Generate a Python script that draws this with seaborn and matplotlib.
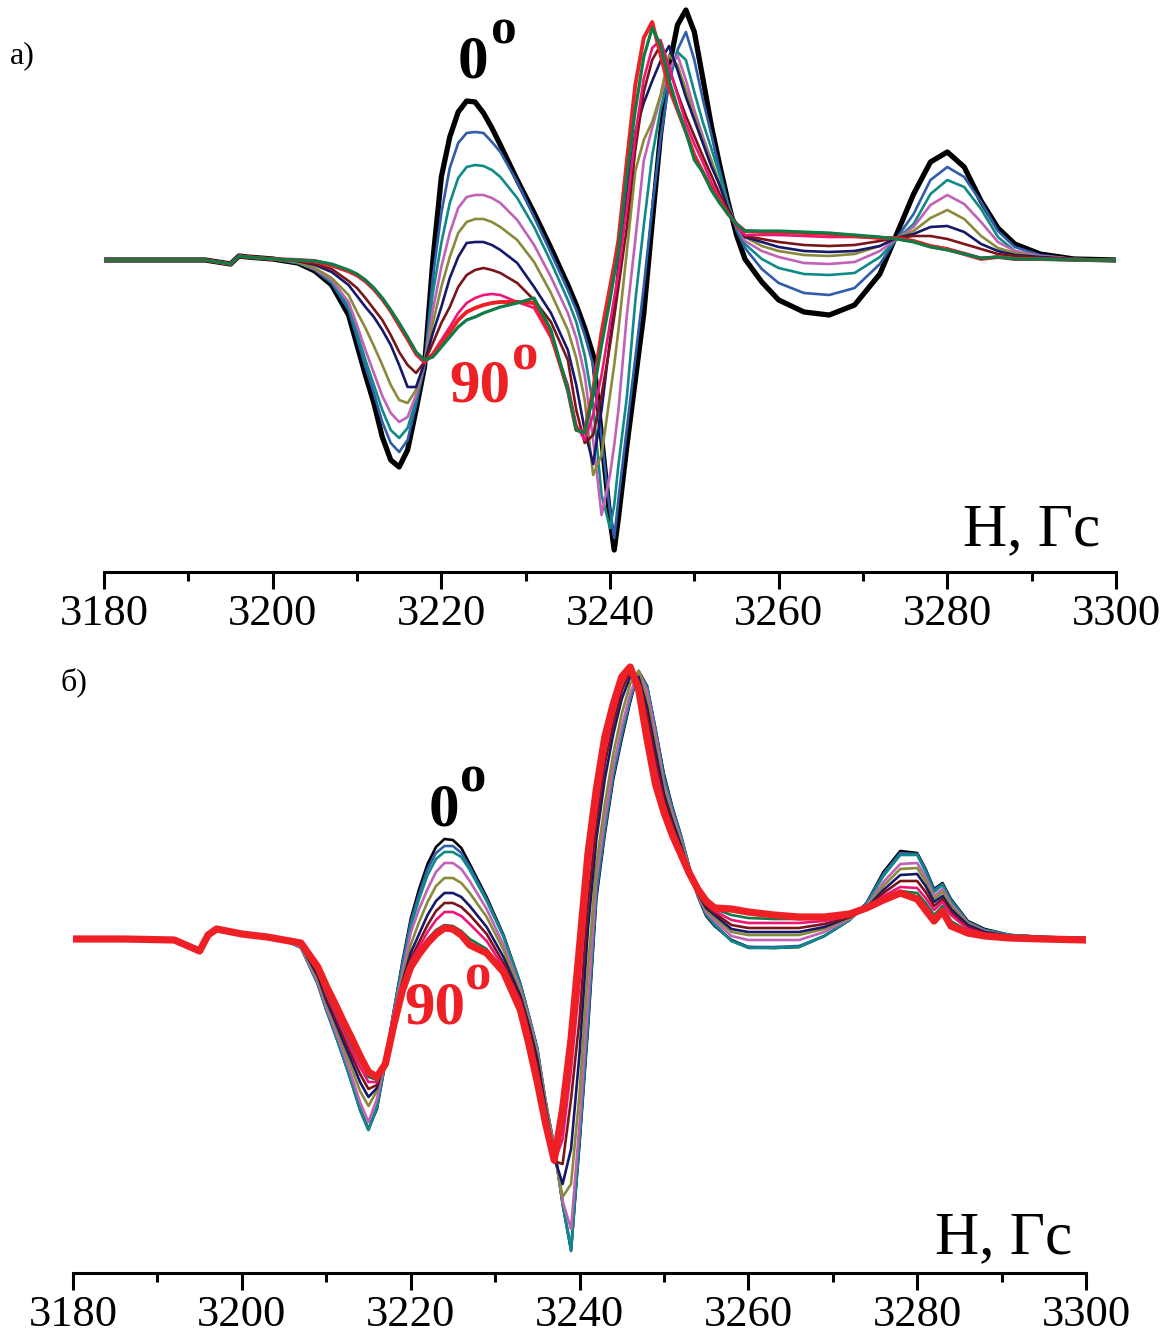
import matplotlib
matplotlib.use("Agg")
import matplotlib.pyplot as plt
from matplotlib.ticker import MultipleLocator
import pandas as pd
import seaborn as sns

sns.set_theme(style="white")
plt.rcParams['font.family'] = ['Liberation Serif', 'DejaVu Serif']
plt.rcParams['text.color'] = 'black'
plt.rcParams['xtick.color'] = 'black'

# ---------------- panel а): magnetic field grid (Gs) and signal per angle -------------
FIELD_A = [3180, 3186, 3192, 3195, 3196, 3197, 3200, 3203, 3205, 3207, 3209,
           3210, 3211, 3212, 3213, 3214, 3215, 3216, 3217, 3218,
           3219, 3220, 3221, 3222, 3223, 3224, 3225, 3226, 3227,
           3229, 3231, 3233, 3235,
           3236, 3237, 3238, 3239, 3240, 3240.5, 3241, 3242, 3243, 3244, 3245,
           3246, 3247, 3248, 3249, 3250, 3251, 3252, 3253, 3254, 3255, 3256,
           3258, 3260, 3263, 3266, 3269, 3272, 3274, 3276, 3278, 3280, 3282,
           3284, 3286, 3288, 3291, 3295, 3300]

A_0 = [0, 0, 0, -4, 4, 3, 1, -3, -11, -25, -55,
       -85, -115, -143, -177, -200, -207, -190, -150, -107,
       0, 83, 123, 148, 159, 158, 147, 132, 115,
       80, 47, 12, -25,
       -45, -68, -95, -177, -259, -290, -258, -186, -120, -54, 37, 126, 193, 235, 250, 228, 182, 135, 95, 58, 25, 1,
       -22, -40, -52, -55, -45, -14, 26, 66, 98, 108, 93, 59, 32, 16, 6, 1, 0]
A_10 = [0, 0, 0, -4, 4, 3, 1, -3, -10, -23, -50,
        -78, -107, -133, -162, -183, -192, -180, -145, -106,
        -17, 47, 92, 117, 127, 128, 127, 118, 108,
        78, 43, 7, -30,
        -50, -75, -105, -178, -252, -278, -239, -168, -98, -27, 52, 122, 177, 210, 228, 200, 161, 126, 90, 56, 30, 12,
        -9, -23, -33, -35, -28, -4, 22, 46, 80, 93, 83, 58, 29, 13, 5, 1, 0]
A_20 = [0, 0, 0, -4, 4, 3, 1, -3, -9, -22, -46,
        -72, -100, -125, -150, -170, -178, -168, -140, -105,
        -33, 17, 57, 82, 93, 95, 94, 90, 83,
        62, 33, -2, -40,
        -62, -95, -145, -235, -268, -245, -205, -137, -41, 34, 104, 151, 184, 208, 200, 168, 138, 112, 85, 55, 33, 16,
        1, -8, -14, -15, -13, 3, 21, 36, 66, 80, 73, 51, 23, 9, 4, 1, 0]
A_30 = [0, 0, 0, -4, 4, 3, 1, -2, -9, -20, -42,
        -65, -90, -113, -136, -153, -162, -157, -135, -104,
        -50, -7, 27, 52, 63, 65, 65, 62, 57,
        40, 15, -17, -53,
        -78, -115, -180, -255, -215, -185, -150, -55, 20, 99, 132, 163, 190, 205, 180, 150, 124, 100, 74, 53, 35, 19,
        9, 3, -3, -4, -2, 9, 21, 33, 55, 65, 56, 38, 18, 9, 4, 1, 0]
A_40 = [0, 0, 0, -4, 4, 3, 1, -2, -8, -18, -35,
        -52, -68, -86, -105, -125, -140, -143, -130, -103,
        -63, -27, 3, 27, 38, 41, 41, 38, 33,
        20, -2, -33, -70,
        -98, -140, -215, -195, -135, -105, -70, 9, 89, 120, 138, 165, 205, 195, 170, 145, 120, 100, 76, 52, 36, 23,
        14, 9, 5, 4, 6, 14, 22, 29, 42, 50, 41, 24, 12, 7, 3, 1, 0]
A_50 = [0, 0, 0, -4, 4, 3, 1, -1, -5, -12, -25,
        -36, -47, -57, -70, -85, -105, -127, -127, -103,
        -73, -47, -18, 3, 17, 18, 18, 15, 10,
        -3, -27, -53, -90,
        -125, -170, -204, -150, -80, -50, -4, 69, 128, 157, 179, 199, 214, 190, 163, 140, 117, 94, 75, 51, 36, 23,
        18, 13, 9, 8, 9, 14, 22, 26, 33, 34, 28, 16, 9, 5, 3, 1, 0]
A_60 = [0, 0, 0, -4, 4, 3, 1, -1, -4, -9, -21,
        -28, -38, -49, -60, -75, -92, -105, -113, -102,
        -83, -63, -47, -27, -15, -10, -8, -10, -13,
        -23, -40, -62, -100,
        -150, -183, -175, -135, -85, -57, -27, 33, 110, 168, 200, 215, 192, 167, 144, 124, 104, 85, 66, 49, 35, 24,
        21, 18, 15, 14, 15, 19, 22, 24, 24, 21, 16, 11, 6, 4, 2, 1, 0]
A_70 = [0, 0, 0, -4, 4, 3, 1, 0, -2, -6, -12,
        -16, -22, -30, -40, -52, -66, -80, -95, -103,
        -93, -80, -67, -53, -43, -38, -35, -34, -35,
        -42, -48, -78, -125,
        -165, -180, -155, -115, -63, -38, -12, 53, 125, 181, 212, 220, 193, 165, 137, 116, 98, 78, 62, 47, 34, 25,
        25, 25, 24, 23, 23, 22, 22, 19, 14, 11, 7, 2, 3, 1, 1, 0, 0]
A_80 = [0, 0, 0, -4, 4, 3, 1, 0, -1, -4, -10,
        -14, -20, -28, -38, -50, -63, -77, -92, -100,
        -97, -87, -77, -67, -60, -57, -53, -50, -47,
        -43, -38, -70, -130,
        -170, -173, -135, -85, -40, -15, 9, 84, 150, 203, 232, 215, 180, 152, 128, 100, 88, 70, 57, 46, 36, 29,
        29, 29, 28, 27, 25, 23, 21, 18, 13, 10, 6, 2, 3, 1, 1, 0, 0]
A_90 = [0, 0, 0, -4, 4, 3, 1, 0, -1, -5, -11,
        -15, -21, -29, -39, -51, -65, -79, -93, -101,
        -95, -83, -72, -60, -52, -48, -45, -43, -42,
        -42, -43, -75, -130,
        -170, -172, -130, -72, -27, -5, 20, 99, 175, 222, 238, 205, 172, 150, 128, 105, 88, 72, 59, 46, 36, 29,
        28, 28, 27, 26, 24, 22, 22, 19, 14, 11, 6, 1, 3, 1, 1, 0, 0]

# ---------------- panel б) ----------------
FIELD_B = [3180, 3186, 3192, 3195, 3196, 3197, 3200, 3203, 3205, 3207,
           3209, 3210, 3211, 3212, 3213, 3214, 3215,
           3216, 3217, 3218, 3219, 3220, 3221, 3222, 3223, 3224, 3225, 3226, 3227,
           3229, 3231, 3233, 3234, 3235,
           3236, 3237, 3238, 3239, 3240, 3241, 3242, 3243, 3244, 3245, 3246,
           3247, 3248, 3249, 3250, 3251, 3252, 3253, 3254, 3255, 3256,
           3258, 3260, 3263, 3266, 3269, 3272, 3274, 3276, 3278, 3280, 3281,
           3282, 3283, 3284, 3286, 3288, 3291, 3295, 3300]

B_0 = [0, 0, -1, -12, 4, 10, 5, 2, -1, -8,
       -45, -70, -93, -118, -143, -170, -190,
       -170, -124, -72, -24, 20, 50, 75, 92, 100, 99, 91, 75,
       42, 4, -45, -77, -110,
       -165, -208, -265, -311, -205, -90, 41, 105, 160, 200, 237, 268, 253, 210, 165, 132, 104, 72, 43, 23, 13,
       -1, -8, -9, -8, 3, 19, 36, 67, 88, 86, 70, 50, 56, 40, 18, 10, 4, 2, 1]
B_10 = [0, 0, -1, -12, 4, 10, 5, 2, -1, -8,
        -45, -71, -94, -118, -144, -171, -191,
        -168, -122, -72, -26, 17, 45, 70, 86, 93, 93, 86, 72,
        40, 3, -45, -76, -109,
        -163, -207, -264, -312, -202, -85, 45, 108, 163, 203, 239, 266, 253, 210, 163, 131, 104, 72, 44, 24, 14,
        -2, -8, -8, -7, 3, 19, 36, 65, 86, 85, 69, 49, 55, 39, 17, 9, 4, 2, 1]
B_20 = [0, 0, -1, -12, 4, 10, 5, 2, -1, -9,
        -45, -71, -94, -118, -143, -171, -191,
        -168, -124, -72, -28, 12, 40, 64, 80, 87, 87, 82, 69,
        38, 2, -46, -77, -110,
        -163, -207, -265, -310, -198, -80, 50, 112, 166, 206, 241, 267, 251, 208, 160, 129, 102, 71, 44, 25, 15,
        -2, -9, -9, -8, 3, 19, 35, 63, 84, 84, 67, 47, 54, 38, 17, 9, 4, 2, 1]
B_30 = [0, 0, -1, -12, 4, 10, 5, 2, -1, -8,
        -43, -68, -90, -113, -137, -163, -183,
        -160, -122, -75, -35, 6, 30, 50, 67, 76, 76, 70, 58,
        30, -6, -50, -79, -112,
        -163, -210, -262, -290, -185, -65, 60, 120, 172, 212, 245, 268, 248, 205, 155, 126, 100, 70, 44, 27, 18,
        3, -1, -1, -1, 7, 20, 33, 57, 75, 76, 62, 43, 50, 35, 16, 8, 3, 1, 0]
B_40 = [0, 0, -1, -12, 4, 10, 5, 2, -1, -7,
        -40, -64, -85, -107, -129, -152, -167,
        -152, -120, -78, -40, -6, 17, 37, 53, 61, 61, 56, 46,
        22, -11, -53, -82, -115,
        -165, -213, -258, -245, -155, -30, 75, 135, 185, 225, 255, 268, 240, 195, 150, 122, 97, 69, 45, 29, 21,
        7, 4, 4, 4, 10, 21, 32, 53, 70, 71, 58, 40, 47, 33, 15, 7, 3, 1, 0]
B_50 = [0, 0, -1, -12, 4, 10, 5, 2, -1, -6,
        -37, -61, -81, -102, -122, -143, -158,
        -149, -119, -80, -44, -14, 5, 24, 38, 46, 46, 42, 33,
        12, -18, -57, -86, -120,
        -170, -218, -245, -210, -115, 10, 100, 160, 205, 240, 262, 262, 232, 188, 145, 118, 94, 68, 46, 31, 24,
        10, 7, 7, 7, 12, 22, 31, 49, 64, 65, 53, 37, 43, 30, 14, 7, 3, 1, 0]
B_60 = [0, 0, -1, -12, 4, 10, 5, 2, -1, -6,
        -34, -58, -77, -97, -116, -135, -150,
        -146, -118, -82, -47, -20, -3, 14, 28, 36, 36, 32, 24,
        5, -24, -60, -90, -127,
        -175, -222, -225, -160, -80, 35, 115, 175, 215, 248, 268, 258, 225, 180, 140, 114, 91, 67, 47, 33, 26,
        14, 11, 11, 11, 15, 22, 30, 46, 58, 58, 47, 33, 40, 27, 12, 6, 2, 1, 0]
B_70 = [0, 0, -1, -12, 4, 10, 5, 2, -1, -5,
        -31, -55, -73, -92, -111, -128, -143,
        -143, -120, -84, -49, -23, -8, 7, 19, 27, 27, 23, 15,
        -2, -28, -63, -95, -135,
        -182, -224, -200, -130, -45, 60, 130, 187, 225, 255, 272, 255, 215, 170, 134, 110, 89, 67, 48, 35, 28,
        19, 16, 16, 16, 18, 23, 30, 43, 52, 51, 41, 29, 37, 24, 10, 5, 2, 1, 0]
B_80 = [0, 0, -1, -12, 4, 10, 5, 2, -1, -5,
        -30, -53, -70, -88, -106, -122, -138,
        -141, -122, -85, -51, -26, -13, 0, 9, 14, 13, 8, 0,
        -10, -33, -67, -100, -140,
        -185, -222, -185, -115, -25, 75, 140, 195, 230, 259, 273, 252, 208, 162, 130, 107, 87, 66, 49, 36, 30,
        24, 21, 20, 20, 21, 24, 30, 41, 48, 46, 36, 24, 33, 18, 8, 4, 2, 1, 0]
B_90 = [0, 0, -1, -12, 4, 10, 5, 2, -1, -4,
        -28, -47, -64, -82, -99, -117, -133,
        -138, -125, -86, -52, -28, -15, -4, 5, 11, 10, 4, -6,
        -14, -33, -71, -105, -143,
        -185, -221, -170, -100, -8, 85, 150, 202, 235, 262, 272, 250, 200, 155, 127, 104, 85, 66, 50, 38, 31,
        30, 27, 24, 22, 22, 25, 31, 39, 46, 40, 29, 18, 28, 13, 6, 3, 1, 0, -1]

ANGLES = [0, 10, 20, 30, 40, 50, 60, 70, 80, 90]
COLORS = {0: "#000000", 10: "#2f5dab", 20: "#0f8a87", 30: "#c262b6", 40: "#8a8a3c",
          50: "#16196b", 60: "#7b1519", 70: "#ee1577", 80: "#0d7c46", 90: "#ee2026"}

SERIES_A = dict(zip(ANGLES, [A_0, A_10, A_20, A_30, A_40, A_50, A_60, A_70, A_80, A_90]))
SERIES_B = dict(zip(ANGLES, [B_0, B_10, B_20, B_30, B_40, B_50, B_60, B_70, B_80, B_90]))


def long_table(field, series):
    rows = []
    for ang, vals in series.items():
        assert len(vals) == len(field), (ang, len(vals), len(field))
        rows.append(pd.DataFrame({"H": field, "signal": vals, "angle": ang}))
    return pd.concat(rows, ignore_index=True)


df_a = long_table(FIELD_A, SERIES_A)
df_b = long_table(FIELD_B, SERIES_B)

fig = plt.figure(figsize=(11.76, 13.37), dpi=100)
ax_a = fig.add_axes([104 / 1176, 1 - 572 / 1337, 1012 / 1176, 572 / 1337])
ax_b = fig.add_axes([73 / 1176, 1 - 1273 / 1337, 1013 / 1176, 633 / 1337])


def draw_panel(ax, df, order, widths, ylim):
    for ang in order:
        sub = df[df["angle"] == ang]
        sns.lineplot(data=sub, x="H", y="signal", ax=ax, color=COLORS[ang],
                     linewidth=widths.get(ang, 1.9), estimator=None, sort=False,
                     legend=False, solid_joinstyle="round", solid_capstyle="round")
    ax.set_xlim(3180, 3300)
    ax.set_ylim(*ylim)
    ax.set_xlabel("")
    ax.set_ylabel("")
    ax.set_yticks([])
    for side in ("left", "right", "top"):
        ax.spines[side].set_visible(False)
    ax.spines["bottom"].set_linewidth(2.2)
    ax.spines["bottom"].set_color("black")
    ax.xaxis.set_major_locator(MultipleLocator(20))
    ax.xaxis.set_minor_locator(MultipleLocator(10))
    ax.tick_params(axis="x", which="major", direction="out", length=12.5, width=2.2,
                   color="black", labelcolor="black", labelsize=32, pad=3, bottom=True)
    ax.tick_params(axis="x", which="minor", direction="out", length=6.5, width=2.2,
                   color="black", bottom=True)
    ax.patch.set_alpha(0)


order_a = [0, 10, 20, 30, 40, 50, 60, 70, 90, 80]
draw_panel(ax_a, df_a, order_a, {0: 3.8, 90: 2.8, 80: 2.3}, (-312, 260))
order_b = [0, 10, 20, 30, 40, 50, 60, 70, 80, 90]
draw_panel(ax_b, df_b, order_b, {90: 5.2}, (-334, 299))

# angle annotations
ax_a.text(3221.9, 182, "0", fontsize=44, fontweight="bold", color="black", va="baseline", ha="left")
ax_a.text(3225.9, 216, "o", fontsize=37, fontweight="bold", color="black", va="baseline", ha="left")
ax_a.text(3221.0, -142, "90", fontsize=44, fontweight="bold", color="#ee2026", va="baseline", ha="left")
ax_a.text(3228.4, -110, "o", fontsize=38, fontweight="bold", color="#ee2026", va="baseline", ha="left")

ax_b.text(3222.1, 114, "0", fontsize=44, fontweight="bold", color="black", va="baseline", ha="left")
ax_b.text(3225.8, 148, "o", fontsize=38, fontweight="bold", color="black", va="baseline", ha="left")
ax_b.text(3219.3, -84, "90", fontsize=44, fontweight="bold", color="#ee2026", va="baseline", ha="left")
ax_b.text(3226.4, -50, "o", fontsize=38, fontweight="bold", color="#ee2026", va="baseline", ha="left")

# axis titles
ax_a.text(3298.1, -285, "H, Гс", fontsize=44, color="black", va="baseline", ha="right")
ax_b.text(3298.4, -314, "H, Гс", fontsize=44, color="black", va="baseline", ha="right")

# panel letters
fig.text(10 / 1176, 1 - 63 / 1337, "а)", fontsize=23, color="black", va="baseline", ha="left")
fig.text(60 / 1176, 1 - 690 / 1337, "б)", fontsize=23, color="black", va="baseline", ha="left")

fig.savefig("out.png", dpi=100)
